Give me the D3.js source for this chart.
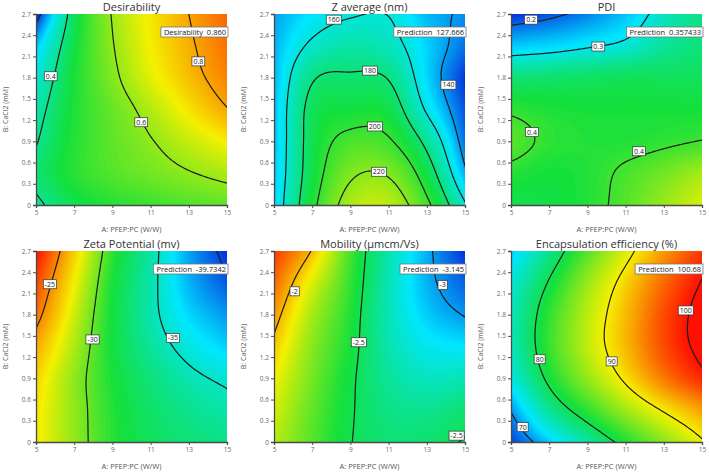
<!DOCTYPE html>
<html><head><meta charset="utf-8">
<script src="https://cdn.jsdelivr.net/npm/d3@7"></script>
<style>body{margin:0;background:#fff} svg{display:block} text{font-family:"Open Sans","Noto Sans",sans-serif}</style>
</head><body><svg id="c" width="709" height="474"></svg>
<script>
// ---- data (grid readings, rows from B = 0 up to B = 2.7) ----
const xGrid = [5, 7, 9, 11, 13, 15];
const yGrid = [0, 0.45, 0.9, 1.35, 1.8, 2.25, 2.7];
const xTicks = [5, 7, 9, 11, 13, 15];
const yTicks = [0, 0.3, 0.6, 0.9, 1.2, 1.5, 1.8, 2.1, 2.4, 2.7];
const yTickLabels = ["0", "0.3", "0.6", "0.9", "1.2", "1.5", "1.8", "2.1", "2.4", "2.7"];
const titles = ["Desirability", "Z average (nm)", "PDI", "Zeta Potential (mv)", "Mobility (\u00b5mcm/Vs)", "Encapsulation efficiency (%)"];
const xTitle = "A: PFEP:PC (W/W)";
const yTitle = "B: CaCl2 (mM)";
const predictions = ["Desirability  0.860", "Prediction  127.666", "Prediction  0.357433", "Prediction  -39.7342", "Prediction  -3.145", "Prediction  100.68"];

const desirability = [
  [0.385, 0.45, 0.485, 0.51, 0.53, 0.545],
  [0.42, 0.49, 0.535, 0.565, 0.595, 0.625],
  [0.395, 0.485, 0.545, 0.595, 0.65, 0.705],
  [0.37, 0.48, 0.555, 0.63, 0.715, 0.795],
  [0.33, 0.475, 0.58, 0.68, 0.765, 0.845],
  [0.275, 0.46, 0.595, 0.70, 0.785, 0.87],
  [0.165, 0.44, 0.605, 0.71, 0.80, 0.885]
];
const zAverage = [
  [148, 195, 228, 232, 204, 162],
  [146, 190, 217, 218, 190, 143],
  [145, 188, 205, 202, 175, 133],
  [145, 186, 192, 190, 158, 128],
  [144, 178, 182, 179, 150, 124],
  [143, 163, 170, 166, 149, 133],
  [141, 152, 158.5, 159.5, 145, 138]
];
const pdi = [
  [0.375, 0.38, 0.39, 0.41, 0.435, 0.46],
  [0.392, 0.385, 0.39, 0.405, 0.42, 0.44],
  [0.41, 0.395, 0.39, 0.39, 0.395, 0.401],
  [0.395, 0.388, 0.385, 0.385, 0.385, 0.385],
  [0.355, 0.36, 0.365, 0.37, 0.37, 0.37],
  [0.27, 0.28, 0.295, 0.31, 0.34, 0.355],
  [0.16, 0.185, 0.22, 0.265, 0.32, 0.35]
];
const zeta = [
  [-27.3, -29.3, -31.1, -32.3, -33.0, -33.4],
  [-27.2, -29.3, -31.2, -32.6, -33.6, -34.3],
  [-26.8, -29.3, -31.4, -33.1, -34.5, -35.4],
  [-25.8, -28.8, -31.6, -33.9, -35.7, -37.0],
  [-24.4, -28.2, -31.6, -34.4, -36.8, -38.3],
  [-23.3, -27.5, -31.4, -34.4, -37.6, -39.7],
  [-22.0, -26.7, -31.0, -34.2, -38.0, -40.7]
];
const mobility = [
  [-2.2, -2.35, -2.495, -2.56, -2.55, -2.49],
  [-2.15, -2.33, -2.485, -2.6, -2.62, -2.56],
  [-2.1, -2.3, -2.475, -2.64, -2.72, -2.7],
  [-2.03, -2.27, -2.45, -2.68, -2.81, -2.85],
  [-1.95, -2.22, -2.43, -2.7, -2.9, -3.01],
  [-1.86, -2.14, -2.40, -2.70, -2.95, -3.12],
  [-1.77, -2.01, -2.37, -2.68, -2.96, -3.22]
];
const encapsulation = [
  [67.2, 72.0, 76.7, 81.3, 85.6, 89.6],
  [70.2, 77.2, 82.0, 86.5, 90.3, 93.5],
  [74.0, 80.8, 86.0, 90.6, 95.2, 98.9],
  [75.6, 82.3, 87.8, 92.4, 97.3, 101.1],
  [75.6, 82.0, 87.6, 92.3, 97.3, 101.4],
  [74.5, 80.3, 86.2, 91.2, 96.0, 100.2],
  [72.0, 77.6, 83.5, 88.8, 93.8, 98.2]
];

// contour levels and label positions [level, A, B]
const desirabilityLevels = [0.2, 0.4, 0.6, 0.8];
const desirabilityLabels = [[0.4, 5.77, 1.82], [0.6, 10.51, 1.17], [0.8, 13.5, 2.03]];
const zLevels = [140, 160, 180, 200, 220];
const zLabels = [[160, 8.13, 2.62], [180, 10.02, 1.9], [200, 10.28, 1.11], [220, 10.49, 0.47], [140, 14.13, 1.7]];
const pdiLevels = [0.2, 0.3, 0.4];
const pdiLabels = [[0.2, 6.05, 2.62], [0.3, 9.57, 2.24], [0.4, 6.1, 1.03], [0.4, 11.7, 0.76]];
const zetaLevels = [-40, -35, -30, -25];
const zetaLabels = [[-25, 5.73, 2.23], [-30, 7.96, 1.45], [-35, 12.17, 1.47]];
const mobilityLevels = [-3, -2.5, -2];
const mobilityLabels = [[-2, 6.08, 2.13], [-2.5, 9.44, 1.41], [-3, 13.83, 2.22], [-2.5, 14.56, 0.09]];
const encapsulationLevels = [70, 80, 90, 100];
const encapsulationLabels = [[70, 5.61, 0.21], [80, 6.5, 1.17], [90, 10.27, 1.14], [100, 14.15, 1.86]];

// ---- styles ----
const palette = ["#0a1fd8", "#00e6ff", "#14e03c", "#f5f000", "#ff1000"];
const colorStops = [
  [0.17, 0.3, 0.47, 0.7, 1.0],
  [120, 152, 193, 245, 290],
  [0.15, 0.29, 0.385, 0.47, 0.58],
  [-41, -36.5, -31.5, -27.5, -22],
  [-3.25, -2.85, -2.45, -2.1, -1.7],
  [66, 73, 81, 90, 100]
];
const panels = [
  {vals: desirability, levels: desirabilityLevels, labels: desirabilityLabels},
  {vals: zAverage, levels: zLevels, labels: zLabels},
  {vals: pdi, levels: pdiLevels, labels: pdiLabels},
  {vals: zeta, levels: zetaLevels, labels: zetaLabels},
  {vals: mobility, levels: mobilityLevels, labels: mobilityLabels},
  {vals: encapsulation, levels: encapsulationLevels, labels: encapsulationLabels}
];
const colLeft = [36, 274, 511], rowTop = [14, 251], PW = 191, PH = 191;

// ---- smooth surface through the grid readings ----
function cr(p0, p1, p2, p3, t) {
  return 0.5 * (2 * p1 + (-p0 + p2) * t + (2 * p0 - 5 * p1 + 4 * p2 - p3) * t * t + (-p0 + 3 * p1 - 3 * p2 + p3) * t * t * t);
}
function interp1(arr, grid, v) {
  const n = grid.length, step = grid[1] - grid[0];
  const f = (v - grid[0]) / step;
  let i = Math.floor(f); if (i < 0) i = 0; if (i > n - 2) i = n - 2;
  const t = f - i;
  const g = k => k < 0 ? 2 * arr[0] - arr[1] : k > n - 1 ? 2 * arr[n - 1] - arr[n - 2] : arr[k];
  return cr(g(i - 1), g(i), g(i + 1), g(i + 2), t);
}
function surface(vals, x, y) {
  const col = vals.map(row => interp1(row, xGrid, x));
  return interp1(col, yGrid, y);
}

const svg = d3.select("#c");
const defs = svg.append("defs");
const NX = 150, NY = 150;
const X0 = 4.85, X1 = 15.15, Y0 = -0.04, Y1 = 2.74;

panels.forEach((p, idx) => {
  const left = colLeft[idx % 3], top = rowTop[Math.floor(idx / 3)];
  const xs = d3.scaleLinear().domain([5, 15]).range([left, left + PW]);
  const ys = d3.scaleLinear().domain([0, 2.7]).range([top + PH, top]);
  const color = d3.scaleLinear().domain(colorStops[idx]).range(palette).clamp(true);

  const fine = new Array(NX * NY);
  for (let j = 0; j < NY; j++) {
    const y = Y1 - (j + 0.5) / NY * (Y1 - Y0);
    for (let i = 0; i < NX; i++) {
      const x = X0 + (i + 0.5) / NX * (X1 - X0);
      fine[j * NX + i] = surface(p.vals, x, y);
    }
  }
  const proj = d3.geoTransform({
    point: function (cx, cy) {
      this.stream.point(xs(X0 + cx / NX * (X1 - X0)), ys(Y1 - cy / NY * (Y1 - Y0)));
    }
  });
  const path = d3.geoPath(proj);

  const cid = "clip" + idx;
  defs.append("clipPath").attr("id", cid).append("rect")
    .attr("x", left).attr("y", top).attr("width", PW).attr("height", PH);
  const g = svg.append("g").attr("clip-path", `url(#${cid})`);

  const [mn, mx] = d3.extent(fine);
  const nb = 90;
  const th = d3.range(nb).map(k => mn - 1e-9 + (mx - mn) * k / nb);
  const bands = d3.contours().size([NX, NY]).thresholds(th)(fine);
  g.selectAll("path.band").data(bands).join("path").attr("class", "band")
    .attr("d", path)
    .attr("fill", (d, k) => color(mn + (mx - mn) * (k + 0.5) / nb))
    .attr("stroke", (d, k) => color(mn + (mx - mn) * (k + 0.5) / nb))
    .attr("stroke-width", 0.3);

  const lines = d3.contours().size([NX, NY]).thresholds(p.levels)(fine);
  g.selectAll("path.iso").data(lines).join("path").attr("class", "iso")
    .attr("d", path).attr("fill", "none").attr("stroke", "#1c1c1c").attr("stroke-width", 1.2);

  // contour labels
  p.labels.forEach(([lv, a, b]) => {
    const lg = svg.append("g").attr("transform", `translate(${xs(a)},${ys(b)})`);
    const r = lg.append("rect");
    const t = lg.append("text").text(String(lv)).attr("font-size", 7).attr("fill", "#222")
      .attr("text-anchor", "middle").attr("dy", "0.35em");
    const w = t.node().getComputedTextLength() + 3;
    r.attr("x", -w / 2).attr("y", -4.5).attr("width", w).attr("height", 9)
      .attr("fill", "#fff").attr("stroke", "#333").attr("stroke-width", 0.7);
  });

  // prediction box
  const pg = svg.append("g");
  const pr = pg.append("rect");
  const pt = pg.append("text").text(predictions[idx]).attr("font-size", 7.5).attr("fill", "#222")
    .attr("text-anchor", "end").attr("x", left + PW - 1).attr("y", top + 21)
    .attr("xml:space", "preserve").style("white-space", "pre");
  const pw = pt.node().getComputedTextLength() + 5;
  pr.attr("x", left + PW + 1 - pw).attr("y", top + 13).attr("width", pw).attr("height", 10)
    .attr("fill", "#fff").attr("stroke", "#777").attr("stroke-width", 0.8);

  // axes
  const ax = svg.append("g").attr("transform", `translate(0,${top + PH})`)
    .call(d3.axisBottom(xs).tickValues(xTicks).tickSize(3).tickPadding(2).tickFormat(d => d));
  const ay = svg.append("g").attr("transform", `translate(${left},0)`)
    .call(d3.axisLeft(ys).tickValues(yTicks).tickSize(3).tickPadding(2).tickFormat((d, i) => yTickLabels[i]));
  [ax, ay].forEach(a => {
    a.select(".domain").attr("stroke", "#4a4a4a").attr("stroke-width", 1.3);
    a.selectAll(".tick line").attr("stroke", "#4a4a4a").attr("stroke-width", 1);
    a.selectAll(".tick text").attr("font-size", 6.5).attr("fill", "#6a6a6a")
      .attr("font-family", "'Open Sans','Noto Sans',sans-serif");
  });

  // titles
  svg.append("text").text(titles[idx]).attr("x", left + PW / 2).attr("y", top - 3)
    .attr("text-anchor", "middle").attr("font-size", 11).attr("fill", "#333");
  svg.append("text").text(xTitle).attr("x", left + PW / 2).attr("y", top + PH + 27)
    .attr("text-anchor", "middle").attr("font-size", 7.5).attr("fill", "#555");
  svg.append("text").text(yTitle)
    .attr("transform", `translate(${left - 28},${top + PH / 2}) rotate(-90)`)
    .attr("text-anchor", "middle").attr("font-size", 7).attr("fill", "#555");
});
</script>
</body></html>
